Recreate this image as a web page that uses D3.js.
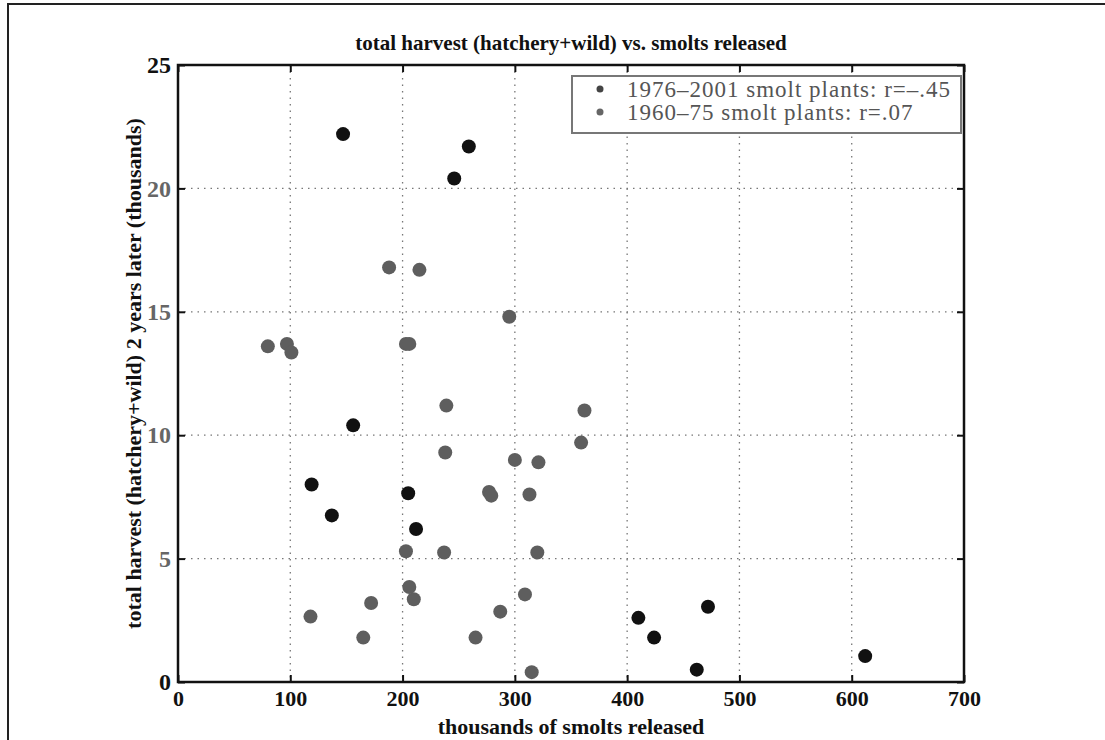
<!DOCTYPE html>
<html>
<head>
<meta charset="utf-8">
<script src="https://cdn.jsdelivr.net/npm/d3@7"></script>
<style>
  body { margin: 0; background: #fff; }
  svg { display: block; font-family: "Liberation Serif", "DejaVu Serif", serif; }
</style>
</head>
<body>
<svg id="chart" width="1105" height="740"></svg>
<script>
// 1976-2001 smolt plants (dark dots)
const lateSmolts  = [147, 259, 246, 156, 119, 137, 205, 212, 410, 424, 462, 472, 612];
const lateHarvest = [22.2, 21.7, 20.4, 10.4, 8.0, 6.75, 7.65, 6.2, 2.6, 1.8, 0.5, 3.05, 1.05];

// 1960-75 smolt plants (grey dots)
const earlySmolts  = [80, 97, 101, 203, 206, 188, 215, 295, 239, 362, 359, 238, 300, 321, 277,
                      279, 313, 203, 237, 320, 206, 210, 172, 309, 287, 118, 165, 265, 315];
const earlyHarvest = [13.6, 13.7, 13.35, 13.7, 13.7, 16.8, 16.7, 14.8, 11.2, 11.0, 9.7, 9.3, 9.0, 8.9, 7.7,
                      7.55, 7.6, 5.3, 5.25, 5.25, 3.85, 3.35, 3.2, 3.55, 2.85, 2.65, 1.8, 1.8, 0.4];

const xTicks = [0, 100, 200, 300, 400, 500, 600, 700];
const yTicks = [0, 5, 10, 15, 20, 25];
const legendLabels = ["1976\u20132001 smolt plants: r=\u2013.45", "1960\u201375 smolt plants: r=.07"];

const svg = d3.select("#chart");
const box = { left: 178, right: 964, top: 65, bottom: 682 };

const x = d3.scaleLinear().domain([0, 700]).range([box.left, box.right]);
const y = d3.scaleLinear().domain([0, 25]).range([box.bottom, box.top]);

// outer page frame
svg.append("rect")
    .attr("x", 8).attr("y", 4)
    .attr("width", 1200).attr("height", 800)
    .attr("fill", "none").attr("stroke", "#222").attr("stroke-width", 2);

// dotted grid
const grid = svg.append("g").attr("stroke", "#777").attr("stroke-width", 1.3)
    .attr("stroke-dasharray", "1.5,5");
grid.selectAll(".vg").data(xTicks.slice(1, -1)).enter().append("line")
    .attr("x1", d => x(d)).attr("x2", d => x(d))
    .attr("y1", box.top).attr("y2", box.bottom);
grid.selectAll(".hg").data(yTicks.slice(1, -1)).enter().append("line")
    .attr("x1", box.left).attr("x2", box.right)
    .attr("y1", d => y(d)).attr("y2", d => y(d));

// axes, ticks pointing inward
const xAxis = svg.append("g")
    .attr("transform", `translate(0,${box.bottom})`)
    .call(d3.axisBottom(x).tickValues(xTicks).tickSizeInner(-7).tickSizeOuter(0).tickPadding(8));
const yAxis = svg.append("g")
    .attr("transform", `translate(${box.left},0)`)
    .call(d3.axisLeft(y).tickValues(yTicks).tickSizeInner(-7).tickSizeOuter(0).tickPadding(7));
svg.append("g")
    .attr("transform", `translate(0,${box.top})`)
    .call(d3.axisTop(x).tickValues(xTicks).tickSizeInner(-7).tickSizeOuter(0).tickFormat(""));
svg.append("g")
    .attr("transform", `translate(${box.right},0)`)
    .call(d3.axisRight(y).tickValues(yTicks).tickSizeInner(-7).tickSizeOuter(0).tickFormat(""));

svg.selectAll(".domain").remove();
svg.selectAll(".tick line").attr("stroke", "#111").attr("stroke-width", 2);

xAxis.selectAll("text")
    .attr("font-size", 22).attr("font-weight", "bold").attr("fill", "#111")
    .attr("font-family", "Liberation Serif");
yAxis.selectAll("text")
    .attr("font-size", 24).attr("font-weight", "bold")
    .attr("fill", d => (d === 0 || d === 25) ? "#111" : "#666")
    .attr("font-family", "Liberation Serif");

// plot box
svg.append("rect")
    .attr("x", box.left).attr("y", box.top)
    .attr("width", box.right - box.left).attr("height", box.bottom - box.top)
    .attr("fill", "none").attr("stroke", "#111").attr("stroke-width", 2.5);

// points
svg.append("g").selectAll("circle")
    .data(d3.zip(earlySmolts, earlyHarvest)).enter().append("circle")
    .attr("cx", d => x(d[0])).attr("cy", d => y(d[1])).attr("r", 7)
    .attr("fill", "#5e5e5e");
svg.append("g").selectAll("circle")
    .data(d3.zip(lateSmolts, lateHarvest)).enter().append("circle")
    .attr("cx", d => x(d[0])).attr("cy", d => y(d[1])).attr("r", 7)
    .attr("fill", "#111");

// legend
const legend = svg.append("g");
legend.append("rect")
    .attr("x", 572).attr("y", 76).attr("width", box.right - 572 - 3).attr("height", 57)
    .attr("fill", "#fff").attr("stroke", "#777").attr("stroke-width", 2);
legend.selectAll("circle").data(legendLabels).enter().append("circle")
    .attr("cx", 600).attr("cy", (d, i) => 89 + i * 23).attr("r", 3.5)
    .attr("fill", (d, i) => i === 0 ? "#444" : "#666");
legend.selectAll("text").data(legendLabels).enter().append("text")
    .attr("x", 627).attr("y", (d, i) => 97 + i * 23)
    .attr("font-size", 23).attr("letter-spacing", 1).attr("fill", "#555")
    .text(d => d);

// titles
svg.append("text")
    .attr("x", (box.left + box.right) / 2).attr("y", 50)
    .attr("text-anchor", "middle").attr("font-size", 21).attr("font-weight", "bold")
    .attr("fill", "#111")
    .text("total harvest (hatchery+wild) vs. smolts released");
svg.append("text")
    .attr("x", (box.left + box.right) / 2).attr("y", 734)
    .attr("text-anchor", "middle").attr("font-size", 22).attr("font-weight", "bold")
    .attr("fill", "#111")
    .text("thousands of smolts released");
svg.append("text")
    .attr("transform", `translate(141,${(box.top + box.bottom) / 2}) rotate(-90)`)
    .attr("text-anchor", "middle").attr("font-size", 22).attr("font-weight", "bold")
    .attr("fill", "#111")
    .text("total harvest (hatchery+wild) 2 years later (thousands)");
</script>
</body>
</html>
